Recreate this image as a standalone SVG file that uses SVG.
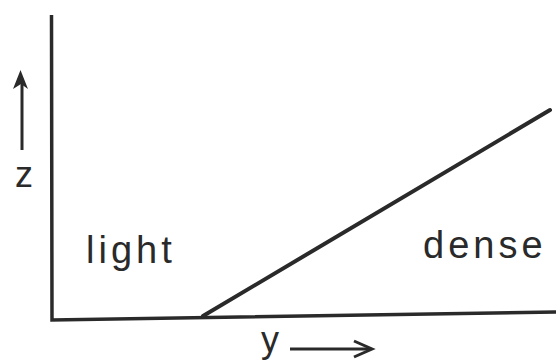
<svg xmlns="http://www.w3.org/2000/svg" width="556" height="363" viewBox="0 0 556 363">
<style>
.ax{stroke:#2a2a2a;stroke-width:3.5;fill:none;stroke-linecap:butt}
.ln{stroke:#2a2a2a;stroke-width:4;fill:none;stroke-linecap:round}
.ar{stroke:#2a2a2a;stroke-width:3;fill:none}
.lb{font-family:"Liberation Sans",Arial,sans-serif;font-size:38px;fill:#2a2a2a;letter-spacing:4px}
.ax-lb{font-family:"Liberation Sans",Arial,sans-serif;font-size:36px;fill:#2a2a2a}
</style>
<rect width="556" height="363" fill="#ffffff"/>
<g id="axes">
<path class="ax" d="M51.5,15 L52,320 L556,312"/>
</g>
<g id="boundary">
<path class="ln" d="M203,316 L550,110"/>
</g>
<g id="z-axis-label">
<line class="ar" x1="22" y1="150" x2="22" y2="82"/>
<path d="M20.5,70 L13,89 L21,84 L28,89 Z" fill="#2a2a2a"/>
<text class="ax-lb" x="24" y="187" text-anchor="middle">z</text>
</g>
<g id="y-axis-label">
<text class="ax-lb" x="270" y="352" text-anchor="middle">y</text>
<line class="ar" x1="290" y1="349" x2="371" y2="349"/>
<path class="ar" d="M354,341 L372,349 L354,357"/>
</g>
<g id="light">
<text class="lb" x="86" y="263">light</text>
</g>
<g id="dense">
<text class="lb" x="423" y="258">dense</text>
</g>
</svg>
